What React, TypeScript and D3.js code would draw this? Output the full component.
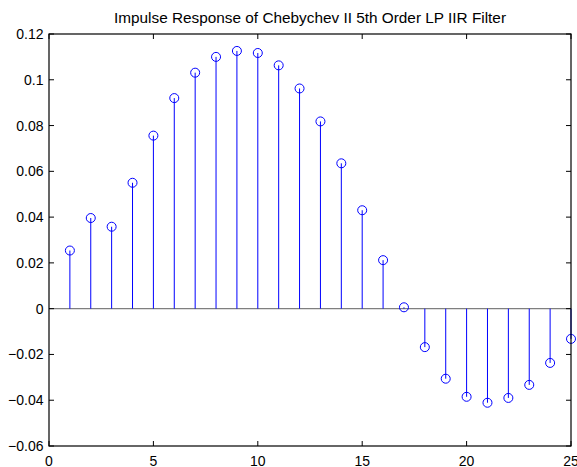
import React from "react";
import * as d3 from "d3";

const sampleIndex: number[] = Array.from({ length: 25 }, (_, i) => i + 1);
const impulseValues: number[] = [
  0.0254, 0.0396, 0.0358, 0.055, 0.0756, 0.092, 0.1031, 0.110, 0.1126, 0.1117,
  0.1063, 0.0962, 0.0818, 0.0635, 0.043, 0.0212, 0.0006, -0.0168, -0.0306, -0.0385,
  -0.0411, -0.039, -0.0333, -0.0237, -0.0132,
];
const xTicks: number[] = [0, 5, 10, 15, 20, 25];
const yTicks: number[] = [-0.06, -0.04, -0.02, 0, 0.02, 0.04, 0.06, 0.08, 0.1, 0.12];
const titleText = "Impulse Response of Chebychev II 5th Order LP IIR Filter";

const W = 577;
const H = 467;
const L = 49;
const R = 571;
const T = 34;
const B = 446;

export default function App() {
  const x = d3.scaleLinear().domain([0, 25]).range([L, R]);
  const y = d3.scaleLinear().domain([-0.06, 0.12]).range([B, T]);
  const font = "'Liberation Sans', Arial, sans-serif";
  const tickLen = 5;
  const yFmt = (v: number) => (Math.abs(v) < 1e-9 ? "0" : d3.format("")(+v.toFixed(2)));
  return (
    <svg
      width={W}
      height={H}
      style={{ position: "absolute", left: 0, top: 0, background: "#fff" }}
    >
      <rect x={0} y={0} width={W} height={H} fill="#fff" />
      <text
        x={(L + R) / 2 + 0}
        y={23}
        textAnchor="middle"
        fontFamily={font}
        fontSize={14}
        textLength={392}
        lengthAdjust="spacingAndGlyphs"
        fill="#000"
      >
        {titleText}
      </text>
      {/* zero baseline */}
      <line x1={L} x2={R} y1={y(0)} y2={y(0)} stroke="#7f7f7f" strokeWidth={1.2} />
      {/* stems */}
      {sampleIndex.map((n, i) => (
        <line
          key={"s" + n}
          x1={x(n)}
          x2={x(n)}
          y1={y(0)}
          y2={y(impulseValues[i])}
          stroke="#0000ff"
          strokeWidth={1}
        />
      ))}
      {sampleIndex.map((n, i) => (
        <circle
          key={"c" + n}
          cx={x(n)}
          cy={y(impulseValues[i])}
          r={4.5}
          fill="none"
          stroke="#0000ff"
          strokeWidth={1}
        />
      ))}
      {/* box */}
      <rect x={L} y={T} width={R - L} height={B - T} fill="none" stroke="#000" strokeWidth={1.2} />
      {/* x ticks */}
      {xTicks.map((t) => (
        <g key={"xt" + t}>
          <line x1={x(t)} x2={x(t)} y1={B} y2={B - tickLen} stroke="#000" />
          <line x1={x(t)} x2={x(t)} y1={T} y2={T + tickLen} stroke="#000" />
          <text x={x(t)} y={466} textAnchor="middle" fontFamily={font} fontSize={14} fill="#000">
            {t}
          </text>
        </g>
      ))}
      {/* y ticks */}
      {yTicks.map((t) => (
        <g key={"yt" + t}>
          <line x1={L} x2={L + tickLen} y1={y(t)} y2={y(t)} stroke="#000" />
          <line x1={R} x2={R - tickLen} y1={y(t)} y2={y(t)} stroke="#000" />
          <text x={43.5} y={y(t) + 5} textAnchor="end" fontFamily={font} fontSize={14} fill="#000">
            {yFmt(t)}
          </text>
        </g>
      ))}
    </svg>
  );
}
